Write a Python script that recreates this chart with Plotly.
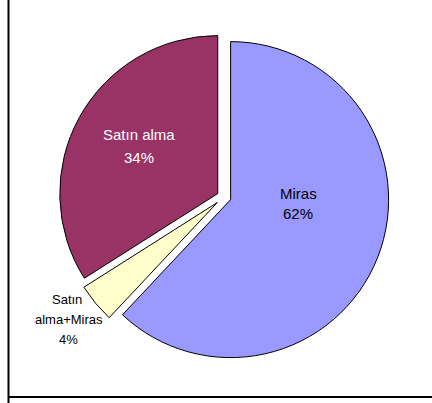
import plotly.graph_objects as go

# Ownership type shares
labels = ["Miras", "Satın alma+Miras", "Satın alma"]
values = [62, 4, 34]
colors = ["#9999FF", "#FFFFCC", "#993366"]
text_colors = ["#000000", "#000000", "#FFFFFF"]
pulls = [0.045, 0.055, 0.045]

W, H = 432, 403
cx, cy, r = 224, 197, 158  # pie centre and radius in pixels
ext = r * (1 + max(pulls))
FONT = "Liberation Sans, Arial, sans-serif"

fig = go.Figure(
    go.Pie(
        labels=labels,
        values=values,
        sort=False,
        direction="clockwise",
        rotation=0,
        pull=pulls,
        marker=dict(colors=colors, line=dict(color="#000000", width=1)),
        textinfo="none",
        showlegend=False,
        hoverinfo="label+percent",
        domain=dict(
            x=[(cx - ext) / W, (cx + ext) / W],
            y=[(H - cy - ext) / H, (H - cy + ext) / H],
        ),
    )
)

# Slice labels: name lines followed by the percentage, one text line per row
total = sum(values)
label_lines = [["Miras"], ["Satın", "alma+Miras"], ["Satın alma"]]
label_pos = [(298, 193), (67, 299), (139, 135)]  # first-line centre, pixels
font_sizes = [15, 13, 15]
line_gap = [20, 20, 22]

for i in range(len(values)):
    rows = label_lines[i] + [f"{round(100 * values[i] / total)}%"]
    x0, y0 = label_pos[i]
    for k, row in enumerate(rows):
        xk = x0
        if i == 1 and k > 0:
            xk = 68.5
        fig.add_annotation(
            x=xk / W, y=1 - (y0 + k * line_gap[i]) / H,
            xref="paper", yref="paper",
            xanchor="center", yanchor="middle",
            text=row, showarrow=False,
            font=dict(family=FONT, size=font_sizes[i], color=text_colors[i]),
        )

# Chart frame (left and bottom edges)
fig.add_shape(type="line", xref="paper", yref="paper",
              x0=8.5 / W, x1=8.5 / W, y0=0, y1=1.02,
              line=dict(color="#000000", width=2))
fig.add_shape(type="line", xref="paper", yref="paper",
              x0=8.5 / W, x1=1.02, y0=1 - 397 / H, y1=1 - 397 / H,
              line=dict(color="#000000", width=2))

fig.update_layout(
    width=W, height=H,
    margin=dict(l=0, r=0, t=0, b=0),
    paper_bgcolor="#FFFFFF",
    plot_bgcolor="#FFFFFF",
)

fig.write_html("out.html")
